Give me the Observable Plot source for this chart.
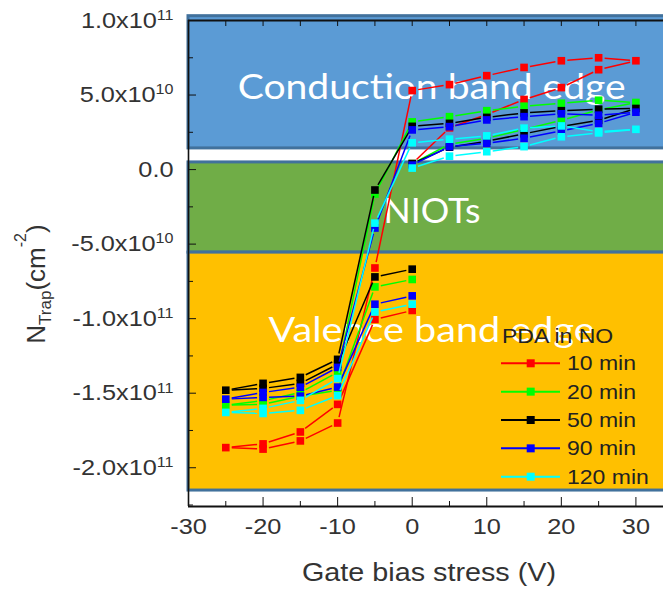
<!DOCTYPE html>
<html><head><meta charset="utf-8">
<script src="https://cdn.jsdelivr.net/npm/d3@7"></script>
<script src="https://cdn.jsdelivr.net/npm/@observablehq/plot@0.6"></script>
<style>
html,body{margin:0;padding:0;background:#fff;}
#chart{width:663px;height:595px;overflow:hidden;}
</style></head><body><div id="chart"></div>
<script>
// ---- data (sweep order of the gate bias stress) ----
const stress = [0,5,10,15,20,25,30,25,20,15,10,5,0,-5,-10,-15,-20,-25,-20,-15,-10,-5,0];
const seriesNames = ["10 min","20 min","50 min","90 min","120 min"];
const seriesColors = ["#ff0000","#00ff00","#000000","#0000ff","#00ffff"];
// N_trap values in units of 1e9 cm^-2
const n10min  = [4,28,37,47,55,67,73,75,73,68.5,63,57,53,-66,-170,-182,-187.5,-186.5,-184,-176,-157.5,-100.5,-94.5];
const n20min  = [4,17,21,27,33,40,45,46.5,44.5,42.5,39.5,35.5,32,-16.4,-136,-149.5,-155,-158,-157.5,-152,-148,-78.7,-73.7];
const n50min  = [4,15,19,24,29,33,41,40.5,39.5,38,35,31,29,-13.7,-127.3,-139.4,-143.4,-148,-146.8,-143.4,-130.6,-72,-66.8];
const n90min  = [3,15.4,17.7,21,26,31,38.5,36.5,37.4,35.5,33.3,28.8,26.6,-39.2,-132.7,-146,-149.5,-154,-152.8,-152,-145.9,-90.3,-84.7];
const n120min = [1,9,12,15.4,22,24.6,27,25.5,29.3,27.8,22.6,20.4,18,-35.9,-140.2,-154.8,-160.2,-162.9,-163.6,-161.5,-151.6,-95.5,-90.3];
const seriesValues = [n10min, n20min, n50min, n90min, n120min];

// energy-band regions (values in 1e9 cm^-2)
const bandNames = ["Conduction band edge","NIOTs","Valence band edge"];
const bandLow  = [14.2, -55.7, -215.3];
const bandHigh = [102.9, 4.8, -55.7];
const bandFill = ["#5b9bd5","#70ad47","#ffc000"];
const bandLabelX = [-23.4, -3.85, -19.26];
const bandLabelY = [47.4, -36.1, -115.7];

// axes
const xTicks = [-30,-20,-10,0,10,20,30];
const xMinorTicks = [-25,-15,-5,5,15,25];
const yTicks = [100,50,0,-50,-100,-150,-200];
const yTickLabels = ["1.0x10^11","5.0x10^10","0.0","-5.0x10^10","-1.0x10^11","-1.5x10^11","-2.0x10^11"];
const yMinorTicks = [75,25,-25,-75,-125,-175,-225];
const xLabel = "Gate bias stress (V)";
const legendTitle = "PDA in NO";

const xDomain = [-30, 33.7];
const yDomain = [-226e9, 100e9];
const E = 1e9;

// ---- build marks ----
const marks = [];
bandNames.forEach((name, i) => {
  marks.push(Plot.rect([name], {x1: xDomain[0], x2: 40, y1: bandLow[i]*E, y2: bandHigh[i]*E,
    fill: bandFill[i], stroke: "#41719c", strokeWidth: 3}));
});
bandNames.forEach((name, i) => {
  marks.push(Plot.text([name], {x: bandLabelX[i], y: bandLabelY[i]*E, text: d => d,
    fill: "white", fontSize: 35, fontFamily: "Lato, 'Open Sans', sans-serif",
    textAnchor: "start", lineAnchor: "bottom"}));
});
// axis frame lines
marks.push(Plot.ruleX([xDomain[0]], {stroke: "#111", strokeWidth: 1.6}));
marks.push(Plot.ruleY([yDomain[0]], {stroke: "#111", strokeWidth: 2}));
marks.push(Plot.ruleY([yDomain[1]], {stroke: "#111", strokeWidth: 2}));
// ticks (inward)
const fmtY = d => yTickLabels[yTicks.indexOf(d / E)];
marks.push(Plot.axisY(yTicks.map(v => v*E), {anchor: "left", tickSize: -8, tickPadding: 23,
  tickFormat: fmtY, fontSize: 22, fill: "#333", stroke: "#111", label: null}));
marks.push(Plot.axisY(yMinorTicks.filter(v => v*E >= yDomain[0]).map(v => v*E), {anchor: "left", tickSize: -5,
  tickFormat: () => "", label: null, stroke: "#111"}));
marks.push(Plot.axisX(xTicks, {anchor: "bottom", tickSize: -9, tickPadding: 21,
  tickFormat: d => String(d), fontSize: 22, fill: "#333", stroke: "#111", label: null}));
marks.push(Plot.axisX(xMinorTicks, {anchor: "bottom", tickSize: -5, tickFormat: () => "", label: null, stroke: "#111"}));
marks.push(Plot.axisX(xTicks.concat(xMinorTicks), {anchor: "top", tickSize: -5, tickFormat: () => "", label: null, stroke: "#111"}));

// data series: lines with gaps, then square markers
seriesNames.forEach((name, s) => {
  const vals = seriesValues[s];
  const pts = stress.map((x, j) => ({series: name, x, y: vals[j]*E}));
  const segs = pts.slice(1).map((p, j) => ({x1: pts[j].x, y1: pts[j].y, x2: p.x, y2: p.y}));
  marks.push(Plot.arrow(segs, {x1: "x1", y1: "y1", x2: "x2", y2: "y2", stroke: seriesColors[s],
    strokeWidth: 1.5, headLength: 0, insetStart: 6, insetEnd: 6, strokeLinecap: "butt"}));
  marks.push(Plot.dot(pts, {x: "x", y: "y", symbol: "square", r: 4.3, fill: seriesColors[s]}));
});

const svgEl = Plot.plot({
  width: 663, height: 595,
  marginLeft: 188, marginRight: 0, marginTop: 20, marginBottom: 89,
  x: {domain: xDomain},
  y: {domain: yDomain},
  style: {fontFamily: "'Liberation Sans', Arial, sans-serif", background: "white"},
  marks
});
document.getElementById("chart").appendChild(svgEl);

// ---- post-processing of text ----
const svg = d3.select(svgEl);
const SX = 1.15; // horizontal stretch of the original figure
svg.selectAll('g[aria-label="y-axis tick label"] text').each(function() {
  const s = this.textContent; if (!s) return;
  const [base, sup] = s.split("^");
  const t = d3.select(this); t.text(null);
  t.append("tspan").text(base);
  if (sup) t.append("tspan").attr("dy", "-0.55em").attr("font-size", 14).text(sup);
});
svg.selectAll('g[aria-label="y-axis tick label"] text, g[aria-label="x-axis tick label"] text').each(function() {
  const tr = this.getAttribute("transform") || "";
  this.setAttribute("transform", tr + ` scale(${SX},1)`);
});
const bandWidths = [388, 97, 326];
svg.selectAll("text").filter(function() { return bandNames.includes(this.textContent); })
  .each(function() {
    const i = bandNames.indexOf(this.textContent);
    this.setAttribute("textLength", bandWidths[i]);
    this.setAttribute("lengthAdjust", "spacingAndGlyphs");
  });

// x label
svg.append("text").attr("transform", `translate(429,581) scale(${SX},1)`)
  .attr("text-anchor", "middle").attr("font-size", 25).attr("fill", "#333").text(xLabel);
// y label N_Trap(cm^-2)
const yl = svg.append("text").attr("transform", "translate(45,284) rotate(-90)")
  .attr("text-anchor", "middle").attr("font-size", 26).attr("fill", "#333");
yl.append("tspan").text("N");
yl.append("tspan").attr("font-size", 17).attr("dy", 6).text("Trap");
yl.append("tspan").attr("dy", -6).text("(cm");
yl.append("tspan").attr("font-size", 16).attr("dy", -19).text("-2");
yl.append("tspan").attr("dy", 19).text(")");

// legend (inside the plot, lower right)
const lg = svg.append("g").attr("font-family", "'Liberation Sans', Arial, sans-serif")
  .attr("text-anchor", "start");
lg.append("text").attr("transform", `translate(502,343) scale(${SX},1)`)
  .attr("text-anchor", "start").attr("font-size", 20).attr("fill", "#222").text(legendTitle);
seriesNames.forEach((name, i) => {
  const cy = 363.3 + i * 28.35;
  lg.append("line").attr("x1", 501).attr("x2", 560).attr("y1", cy).attr("y2", cy)
    .attr("stroke", seriesColors[i]).attr("stroke-width", 2);
  lg.append("rect").attr("x", 526.7).attr("y", cy - 4).attr("width", 8).attr("height", 8)
    .attr("fill", seriesColors[i]);
  lg.append("text").attr("transform", `translate(567,${cy + 7}) scale(${SX},1)`)
    .attr("text-anchor", "start").attr("font-size", 20).attr("fill", "#222").text(name);
});
</script>
</body></html>
